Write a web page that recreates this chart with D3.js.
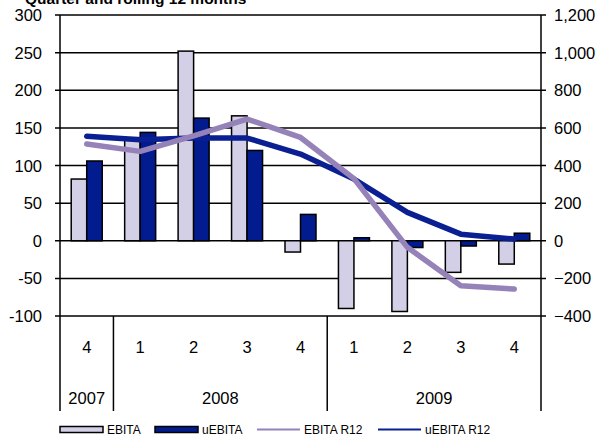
<!DOCTYPE html>
<html>
<head>
<meta charset="utf-8">
<script src="https://cdn.jsdelivr.net/npm/d3@7"></script>
<style>
  html, body { margin: 0; padding: 0; background: #fff; }
  svg { display: block; font-family: Arial, "Liberation Sans", sans-serif; }
</style>
</head>
<body>
<svg id="chart" width="605" height="437"></svg>
<script>
// Quarterly EBITA figures (left axis) and rolling 12-month sums (right axis)
const quarters = ["4", "1", "2", "3", "4", "1", "2", "3", "4"];
const years = [
  { label: "2007", from: 0, to: 1 },
  { label: "2008", from: 1, to: 5 },
  { label: "2009", from: 5, to: 9 }
];
const ebita = [82, 137, 252, 166, -15, -90, -94, -42, -31];
const uebita = [106, 144, 163, 120, 35, 4, -9, -7, 10];
const ebitaR12 = [514, 475, 558, 647, 549, 330, -35, -239, -257];
const uebitaR12 = [555, 537, 546, 546, 461, 328, 151, 35, 9];
const leftTicks = [300, 250, 200, 150, 100, 50, 0, -50, -100];
const rightTicks = [1200, 1000, 800, 600, 400, 200, 0, -200, -400];
const seriesNames = ["EBITA", "uEBITA", "EBITA R12", "uEBITA R12"];

const colors = {
  ebita: "#d2cfe6",
  uebita: "#021b8f",
  ebitaR12: "#9482b8",
  uebitaR12: "#0a1f91"
};

const svg = d3.select("#chart");
const plotL = 60, plotR = 541, plotT = 15, plotB = 316;
const axisFoot = 411;
const labelSize = 16.5;

const x = d3.scaleBand().domain(d3.range(quarters.length)).range([plotL, plotR]).padding(0);
const yL = d3.scaleLinear().domain([-100, 300]).range([plotB, plotT]);
const yR = d3.scaleLinear().domain([-400, 1200]).range([plotB, plotT]);

// title (runs off the top edge)
svg.append("text")
  .attr("x", 25).attr("y", 4)
  .attr("font-size", 15.5).attr("font-weight", "bold")
  .text("Quarter and rolling 12 months");

// horizontal gridlines with outer ticks on both sides
const grid = svg.append("g");
leftTicks.forEach(t => {
  grid.append("line")
    .attr("x1", plotL - 5).attr("x2", plotR + 5)
    .attr("y1", yL(t)).attr("y2", yL(t))
    .attr("stroke", "#000").attr("stroke-width", 1.5);
});

// left axis labels
svg.append("g").selectAll("text").data(leftTicks).join("text")
  .attr("x", 42).attr("y", d => yL(d) + 6)
  .attr("text-anchor", "end").attr("font-size", labelSize)
  .text(d => d);

// right axis labels
const fmt = d3.format(",");
svg.append("g").selectAll("text").data(rightTicks).join("text")
  .attr("x", 554).attr("y", d => yR(d) + 6)
  .attr("text-anchor", "start").attr("font-size", labelSize)
  .text(d => fmt(d));

// bars
const bw = 15.5;
const bars = svg.append("g");
bars.selectAll("rect.e").data(ebita).join("rect")
  .attr("class", "e")
  .attr("x", (d, i) => x(i) + x.bandwidth() / 2 - bw)
  .attr("width", bw)
  .attr("y", d => yL(Math.max(0, d)))
  .attr("height", d => Math.abs(yL(d) - yL(0)))
  .attr("fill", colors.ebita).attr("stroke", "#000").attr("stroke-width", 1.5);
bars.selectAll("rect.u").data(uebita).join("rect")
  .attr("class", "u")
  .attr("x", (d, i) => x(i) + x.bandwidth() / 2)
  .attr("width", bw)
  .attr("y", d => yL(Math.max(0, d)))
  .attr("height", d => Math.abs(yL(d) - yL(0)))
  .attr("fill", colors.uebita).attr("stroke", "#000").attr("stroke-width", 1.5);

// rolling 12-month lines
const line = d3.line()
  .x((d, i) => x(i) + x.bandwidth() / 2)
  .y(d => yR(d));
svg.append("path").datum(uebitaR12)
  .attr("d", line).attr("fill", "none")
  .attr("stroke", colors.uebitaR12).attr("stroke-width", 5.5)
  .attr("stroke-linecap", "round").attr("stroke-linejoin", "round");
svg.append("path").datum(ebitaR12)
  .attr("d", line).attr("fill", "none")
  .attr("stroke", colors.ebitaR12).attr("stroke-width", 5.5)
  .attr("stroke-linecap", "round").attr("stroke-linejoin", "round");

// vertical axis lines (extend through category rows)
[plotL, plotR].forEach(xx => {
  svg.append("line")
    .attr("x1", xx).attr("x2", xx).attr("y1", plotT).attr("y2", axisFoot)
    .attr("stroke", "#000").attr("stroke-width", 1.5);
});

// quarter labels
svg.append("g").selectAll("text").data(quarters).join("text")
  .attr("x", (d, i) => x(i) + x.bandwidth() / 2)
  .attr("y", 353)
  .attr("text-anchor", "middle").attr("font-size", labelSize)
  .text(d => d);

// year separators and labels
years.forEach(yr => {
  if (yr.from > 0) {
    svg.append("line")
      .attr("x1", x(yr.from)).attr("x2", x(yr.from))
      .attr("y1", plotB).attr("y2", axisFoot)
      .attr("stroke", "#000").attr("stroke-width", 1.5);
  }
  const x0 = x(yr.from), x1 = yr.to >= quarters.length ? plotR : x(yr.to);
  svg.append("text")
    .attr("x", (x0 + x1) / 2).attr("y", 404)
    .attr("text-anchor", "middle").attr("font-size", labelSize)
    .text(yr.label);
});

// legend
const lg = svg.append("g").attr("font-size", 12);
const ly = 429.5;
const legendItems = [
  { name: seriesNames[0], x: 60, tx: 107, type: "rect", color: colors.ebita },
  { name: seriesNames[1], x: 155, tx: 202, type: "rect", color: colors.uebita },
  { name: seriesNames[2], x: 257, tx: 304, type: "line", color: colors.ebitaR12 },
  { name: seriesNames[3], x: 378, tx: 425, type: "line", color: colors.uebitaR12 }
];
legendItems.forEach(it => {
  if (it.type === "rect") {
    lg.append("rect").attr("x", it.x).attr("y", ly - 3).attr("width", 43).attr("height", 6)
      .attr("fill", it.color).attr("stroke", "#000").attr("stroke-width", 1.5);
  } else {
    lg.append("line").attr("x1", it.x).attr("x2", it.x + 43)
      .attr("y1", ly).attr("y2", ly)
      .attr("stroke", it.color).attr("stroke-width", 2);
  }
  lg.append("text").attr("x", it.tx).attr("y", ly + 4.5).text(it.name);
});
</script>
</body>
</html>
